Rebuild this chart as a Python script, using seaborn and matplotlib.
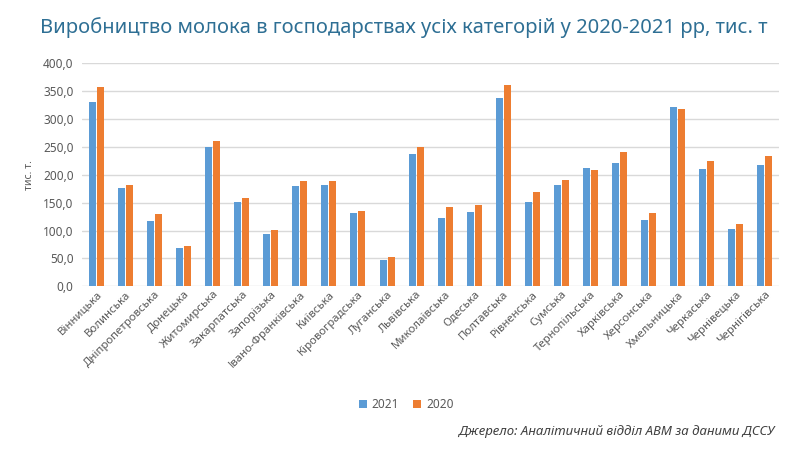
import pandas as pd
import matplotlib.pyplot as plt
import seaborn as sns
from matplotlib.ticker import FuncFormatter

regions = [
    "Вінницька", "Волинська", "Дніпропетровська", "Донецька", "Житомирська",
    "Закарпатська", "Запорізька", "Івано-Франківська", "Київська",
    "Кіровоградська", "Луганська", "Львівська", "Миколаївська", "Одеська",
    "Полтавська", "Рівненська", "Сумська", "Тернопільська", "Харківська",
    "Херсонська", "Хмельницька", "Черкаська", "Чернівецька", "Чернігівська",
]
milk_2021 = [330, 176, 117, 69, 249, 151, 93, 180, 182, 132, 47, 237,
             123, 133, 338, 151, 182, 212, 221, 119, 322, 210, 103, 218]
milk_2020 = [358, 182, 130, 73, 261, 158, 101, 188, 188, 135, 53, 249,
             142, 145, 361, 170, 190, 208, 241, 132, 318, 225, 112, 233]
years = ["2021", "2020"]
y_ticks = [0, 50, 100, 150, 200, 250, 300, 350, 400]

df = pd.DataFrame({
    "region": regions * 2,
    "year": [years[0]] * len(regions) + [years[1]] * len(regions),
    "value": milk_2021 + milk_2020,
})

sns.set_style("white")
plt.rcParams["font.family"] = ["Noto Sans", "DejaVu Sans"]

fig = plt.figure(figsize=(8, 4.62), dpi=100)
ax = fig.add_axes([0.1025, 0.3803, 0.8715, 0.4827])

sns.barplot(data=df, x="region", y="value", hue="year", hue_order=years,
            palette=["#5b9bd5", "#ed7d31"], saturation=1, width=0.55, gap=0.12,
            errorbar=None, ax=ax, legend=True, linewidth=0)

ax.set_ylim(0, 400)
ax.set_xlim(-0.5, len(regions) - 0.5)
ax.set_yticks(y_ticks)
ax.yaxis.set_major_formatter(FuncFormatter(lambda v, p: f"{v:.1f}".replace(".", ",")))
ax.grid(axis="y", color="#d9d9d9", linewidth=1)
ax.set_axisbelow(True)
for s in ax.spines.values():
    s.set_visible(False)
ax.tick_params(axis="both", length=0, colors="#595959")
ax.tick_params(axis="y", labelsize=8.5, pad=6)
ax.tick_params(axis="x", labelsize=8.2, pad=2)
plt.setp(ax.get_xticklabels(), rotation=45, ha="right", rotation_mode="anchor")
ax.set_xlabel("")
ax.set_ylabel("тис. т.", fontsize=7.5, color="#595959", labelpad=6)

ax.legend(loc="center", bbox_to_anchor=(0.465, -0.53), ncol=2, frameon=False,
          fontsize=8.5, handlelength=0.7, handleheight=0.7, handletextpad=0.4,
          columnspacing=1.2, labelcolor="#595959")

fig.text(0.05, 0.94, "Виробництво молока в господарствах усіх категорій у 2020-2021 рр, тис. т",
         fontsize=14.5, color="#2e6f94", ha="left", va="center")
fig.text(0.968, 0.065, "Джерело: Аналітичний відділ АВМ за даними ДССУ",
         fontsize=9.5, color="#404040", style="italic", ha="right", va="center")

fig.savefig("out.png", dpi=100)
